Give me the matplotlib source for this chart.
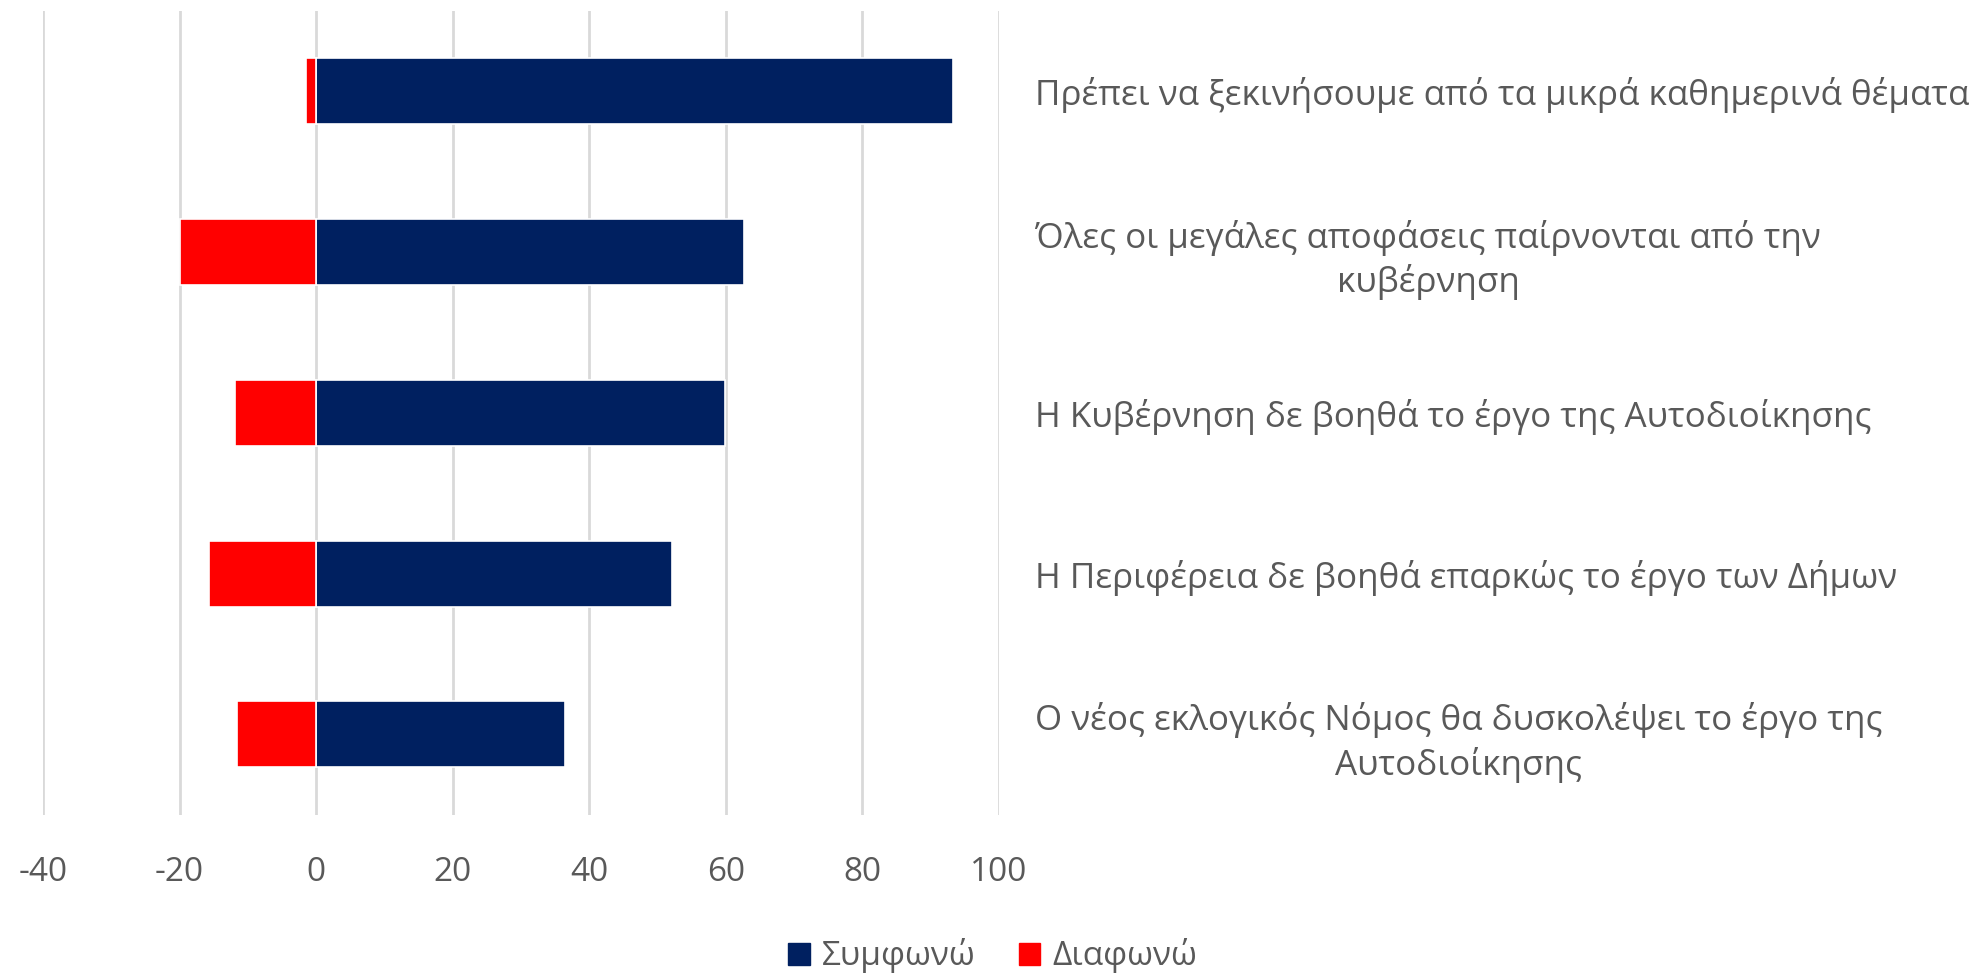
import matplotlib
matplotlib.use("Agg")
import matplotlib.pyplot as plt
from matplotlib.patches import Patch

plt.rcParams['font.family'] = ['Open Sans', 'DejaVu Sans']

# data, top to bottom as in the chart
categories = [
    'Πρέπει να ξεκινήσουμε από τα μικρά καθημερινά θέματα',
    'Όλες οι μεγάλες αποφάσεις παίρνονται από την\nκυβέρνηση',
    'Η Κυβέρνηση δε βοηθά το έργο της Αυτοδιοίκησης',
    'Η Περιφέρεια δε βοηθά επαρκώς το έργο των Δήμων',
    'Ο νέος εκλογικός Νόμος θα δυσκολέψει το έργο της\nΑυτοδιοίκησης',
]
agree = [93.3, 62.7, 59.9, 52.1, 36.5]
disagree = [-1.5, -20.0, -11.9, -15.7, -11.6]
xticks = [-40, -20, 0, 20, 40, 60, 80, 100]

blue = '#002060'
red = '#ff0000'
txt = '#595959'

fig = plt.figure(figsize=(19.85, 9.77), dpi=100)
ax = fig.add_axes([0.0217, 0.166, 0.4816, 0.823])

y = list(range(len(categories)))
ax.barh(y, agree, height=0.41, color=blue, edgecolor='white', linewidth=1.2,
        label='Συμφωνώ', zorder=3)
ax.barh(y, disagree, height=0.41, color=red, edgecolor='white', linewidth=1.2,
        label='Διαφωνώ', zorder=3)

ax.set_xlim(-40, 100)
ax.set_ylim(len(categories) - 0.5, -0.5)
ax.set_xticks(xticks)
ax.set_xticklabels([str(v) for v in xticks])
ax.grid(axis='x', color='#d9d9d9', linewidth=2, zorder=0)
ax.set_axisbelow(True)
for s in ax.spines.values():
    s.set_visible(False)

ax.yaxis.tick_right()
ax.set_yticks(y)
ax.set_yticklabels(categories)
for lab in ax.get_yticklabels():
    lab.set_multialignment('center')
    lab.set_linespacing(1.3)
ax.tick_params(axis='y', length=0, pad=26, labelsize=25.2, labelcolor=txt)
ax.tick_params(axis='x', length=0, pad=30, labelsize=24, labelcolor=txt)

handles = [Patch(color=blue, label='Συμφωνώ'), Patch(color=red, label='Διαφωνώ')]
fig.legend(handles=handles, loc='lower center', bbox_to_anchor=(0.5, -0.027),
           ncol=2, frameon=False, fontsize=24, labelcolor=txt,
           handlelength=0.65, handleheight=0.65, handletextpad=0.35,
           columnspacing=1.3)

fig.savefig('out.png', dpi=100)
